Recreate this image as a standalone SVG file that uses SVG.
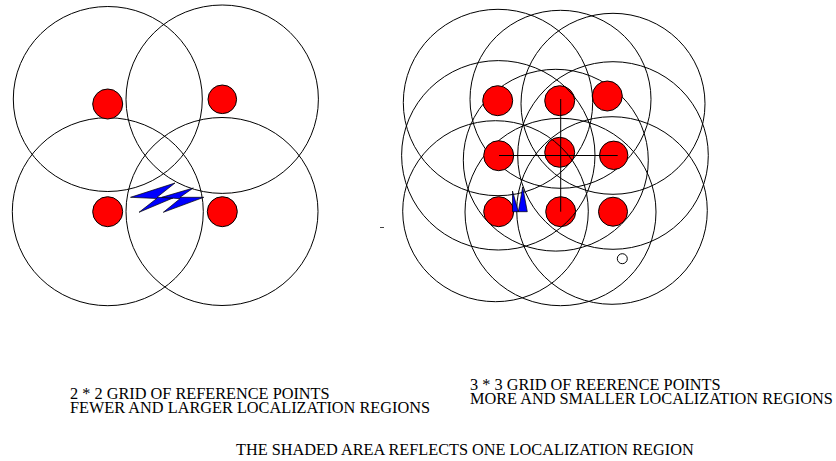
<svg xmlns="http://www.w3.org/2000/svg" width="836" height="461" viewBox="0 0 836 461">
<style>
.r{fill:none;stroke:#000;stroke-width:1}
.p{fill:#f00;stroke:#000;stroke-width:1}
.b{fill:#00f;stroke:#000;stroke-width:.7}
text{font-family:"Liberation Serif","Times New Roman",serif;font-size:16.3px;fill:#000}
</style>
<rect width="836" height="461" fill="#fff"/>
<g id="grid-2x2-regions">
<ellipse class="r" cx="107.8" cy="99" rx="94.5" ry="92.5"/><ellipse class="r" cx="222.2" cy="99.2" rx="96.2" ry="94.2"/>
<ellipse class="r" cx="107.8" cy="211.7" rx="95.5" ry="94"/><ellipse class="r" cx="222" cy="211.5" rx="96" ry="94"/>
</g>
<g id="grid-3x3-regions">
<ellipse class="r" cx="498" cy="102.5" rx="94.7" ry="93.2"/><ellipse class="r" cx="560.5" cy="99.3" rx="90.5" ry="89"/><ellipse class="r" cx="613" cy="103.8" rx="92" ry="90.5"/>
<ellipse class="r" cx="555.8" cy="160.2" rx="92.5" ry="90.9"/><ellipse class="r" cx="613" cy="155.5" rx="95.3" ry="93.8"/>
<ellipse class="r" cx="560.5" cy="212" rx="95.5" ry="93.7"/><ellipse class="r" cx="612" cy="210.5" rx="95.3" ry="93.8"/>
</g>
<g id="bolt-left">
<polygon class="b" points="130.5,197.3 175,183 157,197.3 173,198 139,212.3 156.7,198.5"/>
<polygon class="b" points="161.7,197.3 193.3,188 180,197.3 203.8,197.3 163.3,212.3 180,198.7"/>
</g>
<g id="points-2x2">
<circle class="p" cx="107.7" cy="104" r="15"/><circle class="p" cx="222.3" cy="99.3" r="14.3"/>
<circle class="p" cx="107.7" cy="211.7" r="15"/><circle class="p" cx="222.3" cy="211.7" r="15"/>
</g>
<g id="points-3x3">
<circle class="p" cx="497.7" cy="100.7" r="15"/><circle class="p" cx="559.7" cy="100.7" r="15"/><circle class="p" cx="607.3" cy="96" r="15"/>
<circle class="p" cx="498.7" cy="155.7" r="15"/><circle class="p" cx="559.7" cy="152.3" r="15"/><circle class="p" cx="613.7" cy="155.3" r="14.2"/>
<circle class="p" cx="498.7" cy="211.7" r="15"/><circle class="p" cx="560.7" cy="211.7" r="15"/><circle class="p" cx="613" cy="211.7" r="14.5"/>
</g>
<g id="grid-3x3-regions-top">
<ellipse class="r" cx="498.3" cy="155.3" rx="96.7" ry="94.7"/>
<ellipse class="r" cx="495.5" cy="211.2" rx="92.8" ry="90.5"/>
</g>
<g id="connectors">
<line x1="560.7" y1="99" x2="560.7" y2="211.7" stroke="#000"/>
<line x1="499" y1="155.5" x2="617.7" y2="155.5" stroke="#000"/>
</g>
<g id="bolt-right"><polygon class="b" points="512.5,191 512.5,211.7 527.3,211.7 522.7,187 518.3,211.7"/></g>
<circle id="small-circle" class="r" cx="622.3" cy="258.7" r="5"/>
<line id="dash" x1="380" y1="227.5" x2="384" y2="227.5" stroke="#444"/>
<g id="labels">
<text x="70" y="399">2 * 2 GRID OF REFERENCE POINTS</text>
<text x="70" y="413">FEWER AND LARGER LOCALIZATION REGIONS</text>
<text x="470" y="390">3 * 3 GRID OF REERENCE POINTS</text>
<text x="470" y="404">MORE AND SMALLER LOCALIZATION REGIONS</text>
<text x="236" y="455">THE SHADED AREA REFLECTS ONE LOCALIZATION REGION</text>
</g>
</svg>
